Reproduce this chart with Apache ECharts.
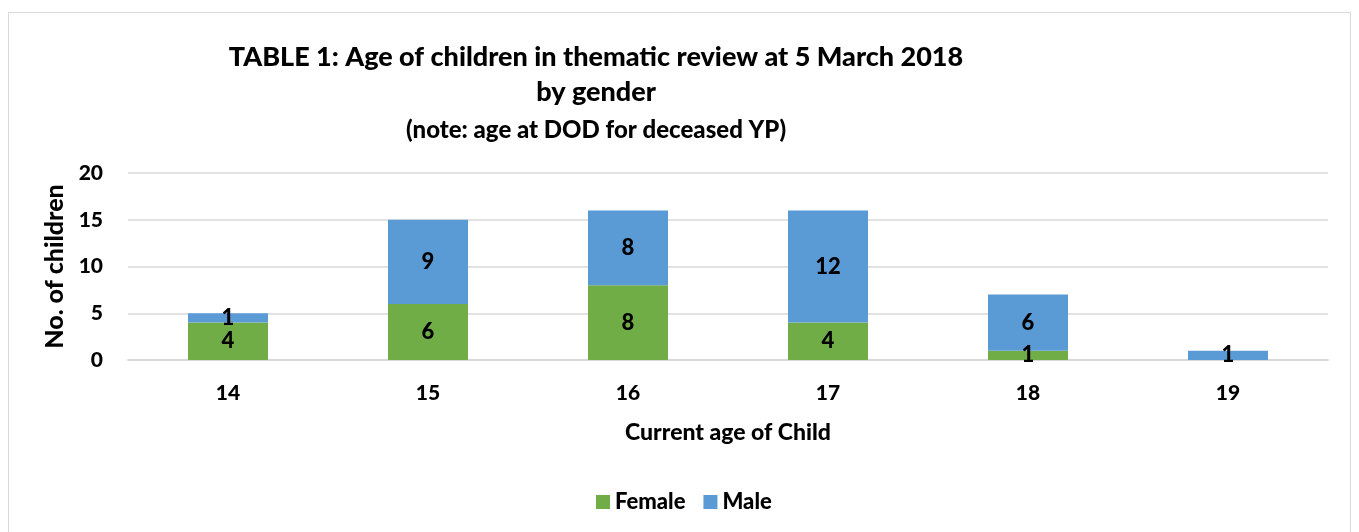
<!DOCTYPE html>
<html>
<head>
<meta charset="utf-8">
<script src="https://cdn.jsdelivr.net/npm/echarts@6/dist/echarts.min.js"></script>
<style>
  html, body { margin: 0; padding: 0; background: #fff; }
  #chart { width: 1359px; height: 532px; }
</style>
</head>
<body>
<div id="chart"></div>
<script>
// data
const ages = ['14', '15', '16', '17', '18', '19'];
const female = [4, 6, 8, 4, 1, null];
const male = [1, 9, 8, 12, 6, 1];
const yTicks = [0, 5, 10, 15, 20];

const FONT = 'Lato';
const W = 900;

const chart = echarts.init(document.getElementById('chart'));

const labelStyle = {
  show: true,
  position: 'inside',
  color: '#000',
  fontFamily: FONT,
  fontWeight: W,
  fontSize: 22
};

chart.setOption({
  animation: false,
  backgroundColor: '#fff',
  graphic: [{
    type: 'rect',
    shape: { x: 8.5, y: 12.5, width: 1342, height: 530 },
    style: { fill: 'none', stroke: '#d9d9d9', lineWidth: 1 },
    silent: true
  }],
  title: {
    text: 'TABLE 1: Age of children in thematic review at 5 March 2018\nby gender',
    subtext: '(note: age at DOD for deceased YP)',
    left: 591,
    top: 35,
    textAlign: 'center',
    itemGap: 8,
    textStyle: {
      fontFamily: FONT,
      fontWeight: W,
      fontSize: 27,
      lineHeight: 35,
      color: '#000'
    },
    subtextStyle: {
      fontFamily: FONT,
      fontWeight: W,
      fontSize: 24,
      color: '#000'
    }
  },
  legend: {
    data: ['Female', 'Male'],
    left: 591,
    top: 486,
    itemWidth: 14,
    itemHeight: 14,
    itemGap: 18,
    icon: 'rect',
    textStyle: { fontFamily: FONT, fontWeight: W, fontSize: 22, color: '#000' }
  },
  grid: { left: 128, right: 31, top: 173, height: 187, containLabel: false },
  xAxis: {
    type: 'category',
    data: ages,
    name: 'Current age of Child',
    nameLocation: 'middle',
    nameGap: 61,
    nameTextStyle: { fontFamily: FONT, fontWeight: W, fontSize: 23, color: '#000' },
    axisLine: { show: true, lineStyle: { color: '#d9d9d9', width: 2 } },
    axisTick: { show: false },
    axisLabel: { fontFamily: FONT, fontWeight: W, fontSize: 21, color: '#000', margin: 23 }
  },
  yAxis: {
    type: 'value',
    min: yTicks[0],
    max: yTicks[yTicks.length - 1],
    interval: 5,
    name: 'No. of children',
    nameLocation: 'middle',
    nameGap: 48,
    nameTextStyle: { fontFamily: FONT, fontWeight: W, fontSize: 25, color: '#000' },
    axisLine: { show: false },
    axisTick: { show: false },
    splitLine: { lineStyle: { color: '#d9d9d9', width: 1.5 } },
    axisLabel: { fontFamily: FONT, fontWeight: W, fontSize: 21, color: '#000', margin: 25 }
  },
  series: [
    {
      name: 'Female',
      type: 'bar',
      stack: 'total',
      barWidth: '40%',
      data: female,
      itemStyle: { color: '#70ad47' },
      label: labelStyle
    },
    {
      name: 'Male',
      type: 'bar',
      stack: 'total',
      barWidth: '40%',
      data: male,
      itemStyle: { color: '#5b9bd5' },
      label: labelStyle
    }
  ]
});
</script>
</body>
</html>
